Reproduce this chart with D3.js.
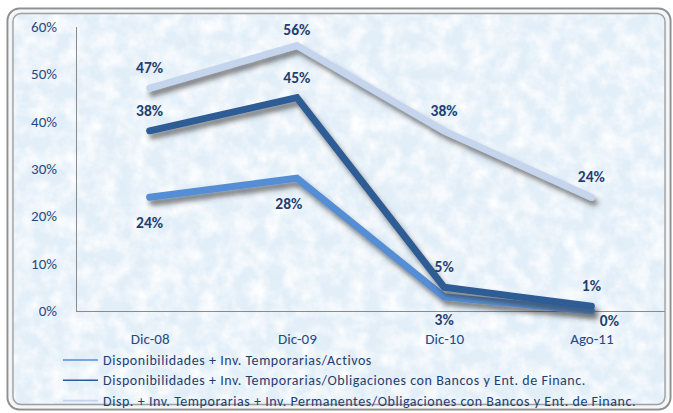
<!DOCTYPE html>
<html>
<head>
<meta charset="utf-8">
<script src="https://cdn.jsdelivr.net/npm/d3@7"></script>
<style>
  body { margin: 0; background: #fff; }
  svg { display: block; }
  text { font-family: Carlito, Lato, "Open Sans", sans-serif; }
</style>
</head>
<body>
<svg id="chart" width="673" height="413"></svg>
<script>
// data
var categories = ['Dic-08', 'Dic-09', 'Dic-10', 'Ago-11'];
var activos = [24, 28, 3, 0];
var obligaciones = [38, 45, 5, 1];
var permanentes = [47, 56, 38, 24];
var yTicks = [0, 10, 20, 30, 40, 50, 60];
var seriesNames = [
  'Disponibilidades + Inv. Temporarias/Activos',
  'Disponibilidades + Inv. Temporarias/Obligaciones con Bancos y Ent. de Financ.',
  'Disp. + Inv. Temporarias + Inv. Permanentes/Obligaciones con Bancos y Ent. de Financ.'
];

var series = [
  { name: seriesNames[0], values: activos, color: '#558ed5', pos: 'below' },
  { name: seriesNames[1], values: obligaciones, color: '#2d5b95', pos: 'above' },
  { name: seriesNames[2], values: permanentes, color: '#c6d5ee', pos: 'above' }
];

var svg = d3.select('#chart');
var defs = svg.append('defs');

// paper-like texture
var tex = defs.append('filter').attr('id', 'tex').attr('x', 0).attr('y', 0).attr('width', 1).attr('height', 1);
tex.append('feTurbulence').attr('type', 'fractalNoise').attr('baseFrequency', 0.06)
  .attr('numOctaves', 4).attr('seed', 3).attr('result', 'n');
tex.append('feColorMatrix').attr('in', 'n').attr('type', 'matrix')
  .attr('values', '0 0 0 0 1  0 0 0 0 1  0 0 0 0 1  1.8 0 0 0 -0.6');

var tex2 = defs.append('filter').attr('id', 'tex2').attr('x', 0).attr('y', 0).attr('width', 1).attr('height', 1);
tex2.append('feTurbulence').attr('type', 'fractalNoise').attr('baseFrequency', 0.05)
  .attr('numOctaves', 3).attr('seed', 11).attr('result', 'n');
tex2.append('feColorMatrix').attr('in', 'n').attr('type', 'matrix')
  .attr('values', '0 0 0 0 0.74  0 0 0 0 0.85  0 0 0 0 0.94  0 1.6 0 0 -0.7');

var shadow = defs.append('filter').attr('id', 'shadow')
  .attr('x', '-10%').attr('y', '-10%').attr('width', '130%').attr('height', '140%');
shadow.append('feDropShadow').attr('dx', 3).attr('dy', 5).attr('stdDeviation', 2.4)
  .attr('flood-color', '#333').attr('flood-opacity', 0.6);

// frame
svg.append('rect').attr('x', 7.5).attr('y', 8.5).attr('width', 663).attr('height', 401)
  .attr('rx', 12).attr('fill', '#e6f0f9').attr('stroke', '#8f8f8f').attr('stroke-width', 2);
svg.append('rect').attr('x', 13).attr('y', 13).attr('width', 652).attr('height', 391)
  .attr('rx', 8).attr('fill', '#e2eef8');
svg.append('rect').attr('x', 13).attr('y', 13).attr('width', 652).attr('height', 391)
  .attr('rx', 8).attr('filter', 'url(#tex2)');
svg.append('rect').attr('x', 13).attr('y', 13).attr('width', 652).attr('height', 391)
  .attr('rx', 8).attr('filter', 'url(#tex)');
svg.append('rect').attr('x', 10).attr('y', 11).attr('width', 658).attr('height', 396)
  .attr('rx', 10).attr('fill', 'none').attr('stroke', '#f6f6f6').attr('stroke-width', 2.5);
svg.append('rect').attr('x', 13).attr('y', 13.5).attr('width', 652).attr('height', 391)
  .attr('rx', 8).attr('fill', 'none').attr('stroke', '#a0a0a0').attr('stroke-width', 1.4);

// scales
var x = d3.scalePoint().domain(categories).range([76, 665]).padding(0.5);
var y = d3.scaleLinear().domain([0, 60]).range([311, 26.5]);

// axes
var yAxis = svg.append('g').attr('transform', 'translate(76,0)')
  .call(d3.axisLeft(y).tickValues(yTicks).tickSize(0).tickPadding(19).tickFormat(function (d) { return d + '%'; }));
yAxis.select('.domain').attr('stroke', '#8a8a8a');
yAxis.selectAll('text').attr('font-size', 15).attr('fill', '#1f4a84').attr('font-family', null);

var xAxis = svg.append('g').attr('transform', 'translate(0,311)')
  .call(d3.axisBottom(x).tickSize(0).tickPadding(22));
xAxis.select('.domain').remove();
xAxis.selectAll('text').attr('font-size', 15).attr('fill', '#1f4a84').attr('font-family', null);
svg.append('line').attr('x1', 76).attr('x2', 665).attr('y1', 311.5).attr('y2', 311.5)
  .attr('stroke', '#8a8a8a');

// lines
var line = d3.line().x(function (d, i) { return x(categories[i]); }).y(function (d) { return y(d); });

// draw back to front: light, mid, dark
[series[2], series[0], series[1]].forEach(function (s) {
  svg.append('path').datum(s.values)
    .attr('d', line)
    .attr('fill', 'none')
    .attr('stroke', s.color)
    .attr('stroke-width', 7)
    .attr('stroke-linejoin', 'miter')
    .attr('stroke-linecap', 'round')
    .attr('filter', 'url(#shadow)');
});

// data labels
series.forEach(function (s) {
  svg.append('g').selectAll('text').data(s.values).join('text')
    .attr('x', function (d, i) {
      if (s.pos === 'below' && i === 1) return x(categories[i]) - 8;
      if (s.pos === 'below' && i === s.values.length - 1) return x(categories[i]) + 18;
      return x(categories[i]);
    })
    .attr('y', function (d, i) {
      var py = y(d);
      if (s.pos === 'below') return i === s.values.length - 1 ? py + 15 : (i === 2 ? py + 28 : py + 31);
      return Math.max(py - 15, 35);
    })
    .attr('text-anchor', 'middle')
    .attr('font-size', 15.5)
    .attr('font-weight', 'bold')
    .attr('fill', '#1f3e72')
    .text(function (d) { return d + '%'; });
});

// legend
var legend = svg.append('g');
series.forEach(function (s, i) {
  var ly = 360 + i * 20.3;
  legend.append('line').attr('x1', 63).attr('x2', 98).attr('y1', ly).attr('y2', ly)
    .attr('stroke', s.color).attr('stroke-width', 1.6);
  legend.append('text').attr('x', 103).attr('y', ly + 5)
    .attr('font-size', 14).attr('letter-spacing', 0.55).attr('fill', '#1f3e72').text(s.name);
});
</script>
</body>
</html>
